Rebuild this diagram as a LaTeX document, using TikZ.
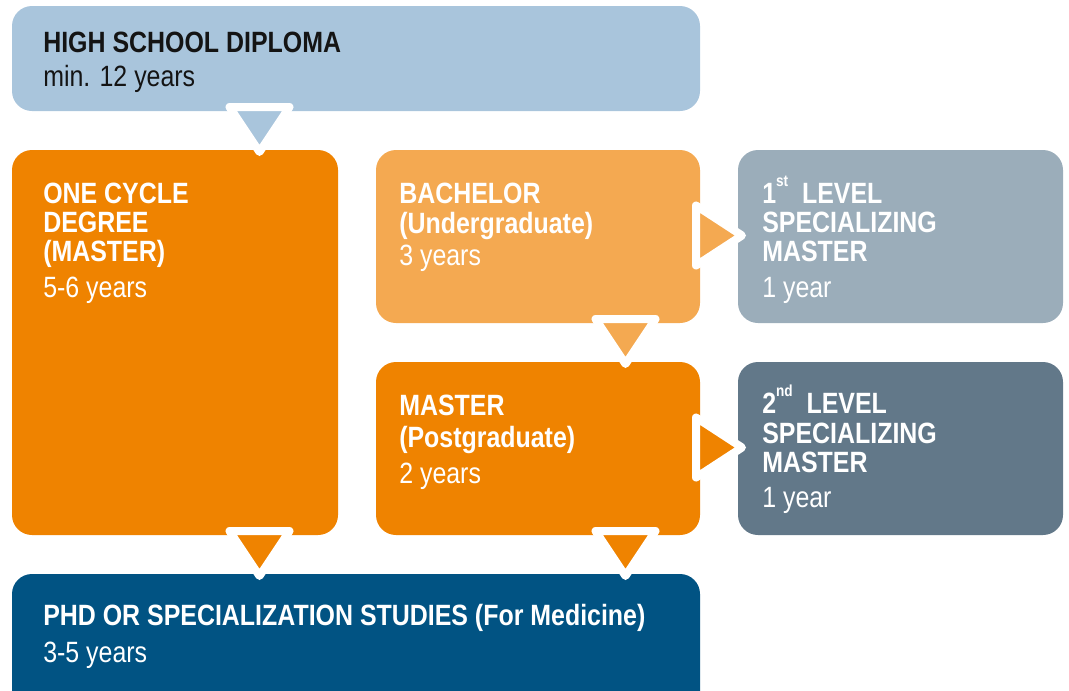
\documentclass[tikz,border=0pt]{standalone}
\usepackage{fontspec}
\setmainfont{Liberation Sans}[FakeStretch=0.85]
\definecolor{cTop}{HTML}{A9C5DC}
\definecolor{cOrange}{HTML}{EF8300}
\definecolor{cLight}{HTML}{F4A951}
\definecolor{cGrayA}{HTML}{9BADBA}
\definecolor{cGrayB}{HTML}{627889}
\definecolor{cBlue}{HTML}{015383}
\definecolor{cInk}{HTML}{141414}
\tikzset{
  boxnode/.style={rectangle, rounded corners=15pt, inner sep=0pt, outer sep=0pt, draw=none, anchor=north west},
  hd/.style={anchor=base west, inner sep=0pt, font=\fontsize{22}{26}\selectfont\bfseries, text=white},
  rg/.style={anchor=base west, inner sep=0pt, font=\fontsize{22}{26}\selectfont, text=white},
  tri/.style={draw=white, line width=6pt, line join=round},
}
\newcommand{\supx}[1]{\raisebox{0.55em}{\fontsize{12}{12}\selectfont #1}}
\begin{document}
\begin{tikzpicture}[x=0.75pt,y=-0.75pt]
\useasboundingbox (0,0) rectangle (1069,690);
\clip (0,0) rectangle (1069,690);
% boxes
\node[boxnode, fill=cTop, minimum width=516pt, minimum height=78.75pt] (hs) at (12,6) {};
\node[boxnode, fill=cOrange, minimum width=244.5pt, minimum height=288.75pt] (oc) at (12,150) {};
\node[boxnode, fill=cLight, minimum width=243pt, minimum height=129.75pt] (ba) at (376,150) {};
\node[boxnode, fill=cGrayA, minimum width=243.75pt, minimum height=129.75pt] (la) at (738,150) {};
\node[boxnode, fill=cOrange, minimum width=243pt, minimum height=129.75pt] (ma) at (376,362) {};
\node[boxnode, fill=cGrayB, minimum width=243.75pt, minimum height=129.75pt] (lb) at (738,362) {};
\node[boxnode, fill=cBlue, minimum width=516pt, minimum height=105pt] (phd) at (12,574) {};
% connector triangles
\coordinate (t1) at (259.5,107);
\coordinate (t2) at (625.5,319);
\coordinate (t3) at (259.5,531);
\coordinate (t4) at (625.5,531);
\coordinate (h1) at (696,235.5);
\coordinate (h2) at (696,447.5);
\filldraw[tri, fill=cTop] ([xshift=-22.5pt]t1) -- ([xshift=22.5pt]t1) -- ([yshift=-33.75pt]t1) -- cycle;
\filldraw[tri, fill=cLight] ([xshift=-22.5pt]t2) -- ([xshift=22.5pt]t2) -- ([yshift=-33.75pt]t2) -- cycle;
\filldraw[tri, fill=cOrange] ([xshift=-22.5pt]t3) -- ([xshift=22.5pt]t3) -- ([yshift=-33.75pt]t3) -- cycle;
\filldraw[tri, fill=cOrange] ([xshift=-22.5pt]t4) -- ([xshift=22.5pt]t4) -- ([yshift=-33.75pt]t4) -- cycle;
\filldraw[tri, fill=cLight] ([yshift=22.5pt]h1) -- ([yshift=-22.5pt]h1) -- ([xshift=34.5pt]h1) -- cycle;
\filldraw[tri, fill=cOrange] ([yshift=22.5pt]h2) -- ([yshift=-22.5pt]h2) -- ([xshift=34.5pt]h2) -- cycle;
% texts
\node[hd, text=cInk] (hs1) at (43,52) {HIGH SCHOOL DIPLOMA};
\node[rg, text=cInk] (hs2) at (43,86) {min. 12 years};
\node[hd] (oc1) at (43,203) {ONE CYCLE};
\node[hd] (oc2) at (43,232) {DEGREE};
\node[hd] (oc3) at (43,261) {(MASTER)};
\node[rg] (oc4) at (43,297) {5-6 years};
\node[hd] (ba1) at (399,203) {BACHELOR};
\node[hd] (ba2) at (399,233) {(Undergraduate)};
\node[rg] (ba3) at (399,265) {3 years};
\node[hd] (la1) at (762,203) {1\supx{st}\ \ LEVEL};
\node[hd] (la2) at (762,232) {SPECIALIZING};
\node[hd] (la3) at (762,261) {MASTER};
\node[rg] (la4) at (762,297) {1 year};
\node[hd] (ma1) at (399,415) {MASTER};
\node[hd] (ma2) at (399,447) {(Postgraduate)};
\node[rg] (ma3) at (399,483) {2 years};
\node[hd] (lb1) at (762,413) {2\supx{nd}\ \ LEVEL};
\node[hd] (lb2) at (762,443) {SPECIALIZING};
\node[hd] (lb3) at (762,472) {MASTER};
\node[rg] (lb4) at (762,507) {1 year};
\node[hd] (phd1) at (43,625) {PHD OR SPECIALIZATION STUDIES (For Medicine)};
\node[rg] (phd2) at (43,662) {3-5 years};
\end{tikzpicture}
\end{document}
